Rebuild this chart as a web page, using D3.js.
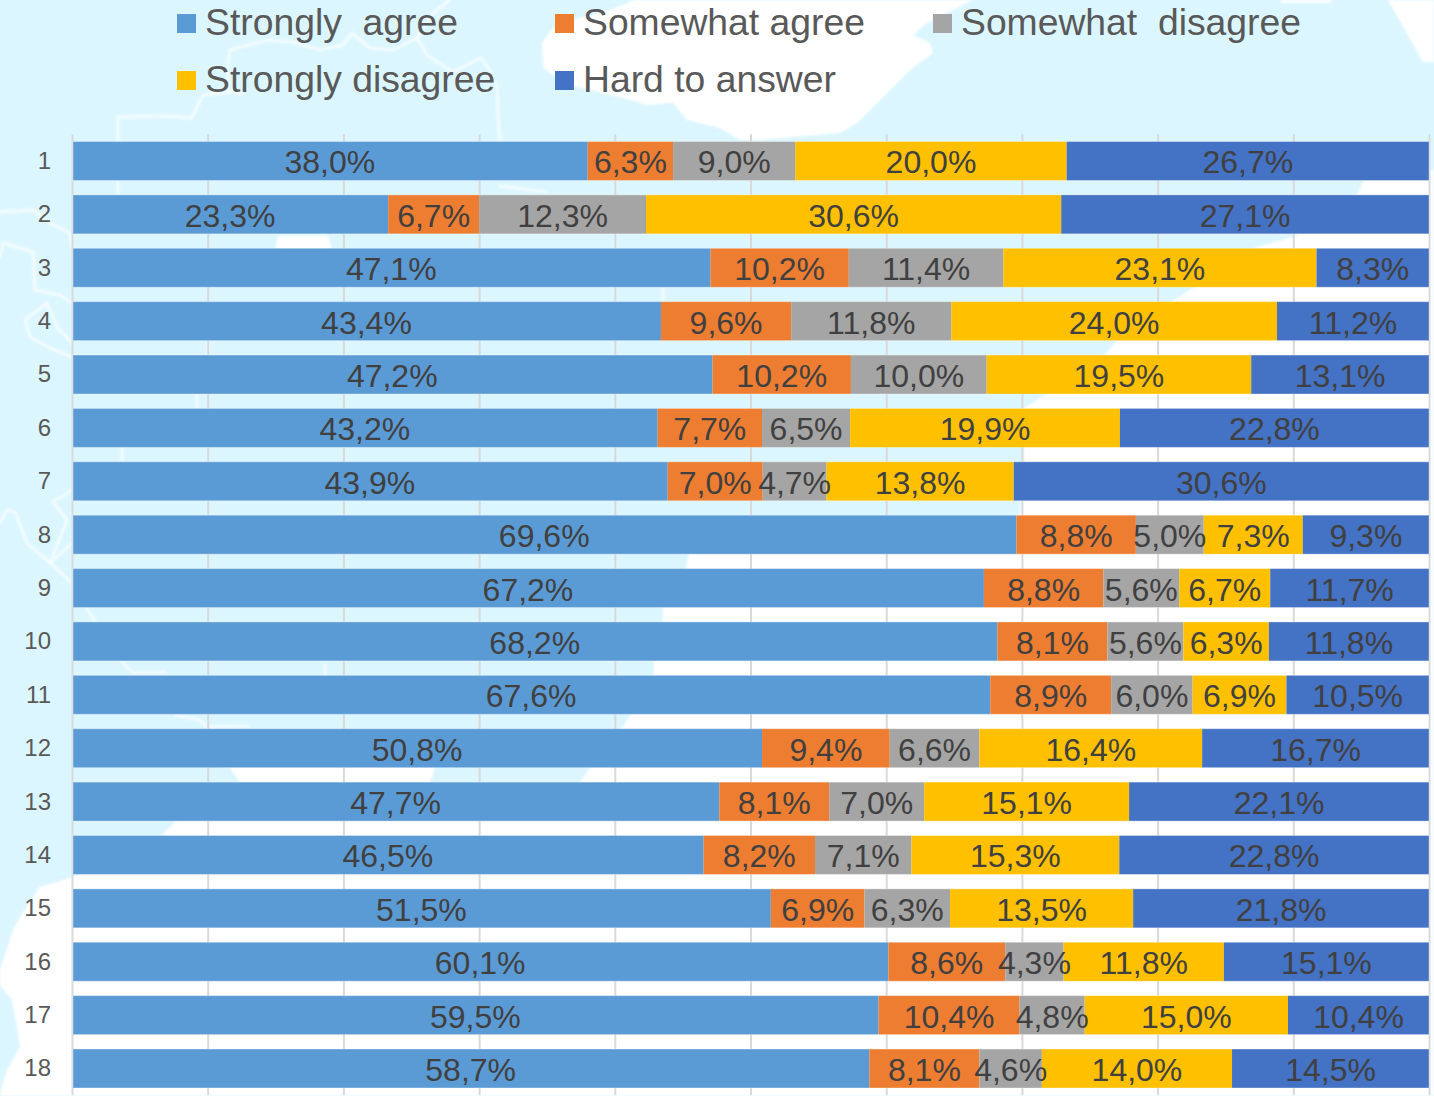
<!DOCTYPE html>
<html>
<head>
<meta charset="utf-8">
<title>Survey answers</title>
<script src="https://cdn.jsdelivr.net/npm/d3@7"></script>
<style>
	html, body { margin: 0; padding: 0; background: #fff; }
	svg { display: block; font-family: "Liberation Sans", Arial, sans-serif; }
	.axis text { fill: #595959; font-size: 24px; }
	.grid line { stroke: #d9d9d9; stroke-width: 2; }
	.legend text { fill: #595959; font-size: 37.3px; white-space: pre; }
	.label { fill: #404040; font-size: 32px; text-anchor: middle; }
	.coast { fill: none; stroke: #fff; stroke-width: 3; stroke-opacity: 0.65; stroke-linejoin: round; stroke-linecap: round; }
</style>
</head>
<body>
<script>
const ROWS = d3.range(1, 19);
const SERIES = ["Strongly  agree", "Somewhat agree", "Somewhat  disagree", "Strongly disagree", "Hard to answer"];
const COLORS = ["#5b9bd5", "#ed7d31", "#a5a5a5", "#ffc000", "#4472c4"];

const stronglyAgree = [38.0, 23.3, 47.1, 43.4, 47.2, 43.2, 43.9, 69.6, 67.2, 68.2, 67.6, 50.8, 47.7, 46.5, 51.5, 60.1, 59.5, 58.7];
const somewhatAgree = [6.3, 6.7, 10.2, 9.6, 10.2, 7.7, 7.0, 8.8, 8.8, 8.1, 8.9, 9.4, 8.1, 8.2, 6.9, 8.6, 10.4, 8.1];
const somewhatDisagree = [9.0, 12.3, 11.4, 11.8, 10.0, 6.5, 4.7, 5.0, 5.6, 5.6, 6.0, 6.6, 7.0, 7.1, 6.3, 4.3, 4.8, 4.6];
const stronglyDisagree = [20.0, 30.6, 23.1, 24.0, 19.5, 19.9, 13.8, 7.3, 6.7, 6.3, 6.9, 16.4, 15.1, 15.3, 13.5, 11.8, 15.0, 14.0];
const hardToAnswer = [26.7, 27.1, 8.3, 11.2, 13.1, 22.8, 30.6, 9.3, 11.7, 11.8, 10.5, 16.7, 22.1, 22.8, 21.8, 15.1, 10.4, 14.5];
const VALUES = [stronglyAgree, somewhatAgree, somewhatDisagree, stronglyDisagree, hardToAnswer];

// the faded map behind the chart, traced by eye
const LAND = [
	[[635, 0], [610, 10], [573, 20], [553, 28], [542, 43], [543, 67], [563, 83], [620, 97], [647, 105], [673, 103], [687, 120], [720, 128], [740, 140], [760, 140], [840, 133], [857, 123], [887, 93], [910, 70], [933, 53], [930, 43], [913, 35], [927, 23], [953, 10], [973, 0]],
	[[1388, 0], [1423, 62], [1434, 62], [1434, 0]],
	[[1280, 0], [1282, 3], [1330, 3], [1332, 0]],
	[[275, 250], [278, 236], [328, 236], [332, 250]],
	[[1434, 170], [1365, 178], [1358, 193], [1293, 237], [1257, 247], [1193, 288], [1173, 301], [1115, 342], [1107, 353], [1047, 394], [1024, 408], [1024, 461], [1020, 515], [690, 545], [686, 568], [663, 608], [663, 621], [654, 661], [654, 675], [631, 714], [622, 728], [600, 760], [590, 768], [580, 782], [560, 800], [440, 800], [430, 782], [435, 768], [420, 760], [240, 760], [230, 768], [240, 782], [190, 810], [175, 822], [162, 835], [70, 878], [40, 887], [20, 917], [13, 930], [0, 970], [0, 985], [12, 1000], [17, 1027], [20, 1047], [7, 1070], [0, 1093], [0, 1096], [1434, 1096]],
];
const COAST = [
	[[118, 200], [118, 117], [170, 116], [192, 118], [203, 95], [228, 92], [243, 93]],
	[[228, 92], [228, 63], [230, 50], [267, 40], [293, 42], [320, 50], [343, 45], [352, 33], [370, 48], [393, 50], [417, 38], [427, 55], [453, 72], [480, 58], [488, 67], [497, 87], [498, 117], [500, 140]],
	[[417, 38], [433, 13], [450, 0]],
	[[0, 212], [33, 210], [50, 223], [70, 233], [72, 247]],
	[[0, 257], [3, 243], [33, 252], [35, 290], [60, 295], [72, 303]],
	[[47, 303], [25, 320], [30, 337], [50, 348], [72, 357]],
	[[47, 303], [57, 327], [72, 343]],
	[[72, 490], [53, 502], [67, 520], [50, 563], [72, 543]],
	[[0, 523], [7, 510], [15, 512], [27, 543], [50, 563], [72, 583]],
	[[87, 608], [95, 622]],
	[[122, 662], [133, 673], [165, 672]],
	[[175, 715], [200, 720], [207, 727], [248, 726]],
	[[197, 394], [197, 408]],
	[[122, 447], [122, 461]],
	[[208, 343], [208, 355]],
	[[663, 288], [663, 301]],
	[[325, 665], [325, 675]],
	[[500, 186], [546, 192]],
];

const width = 1434, height = 1096;
const margin = { top: 134.3, right: 5, bottom: 0.8, left: 72 };

let svg = d3.select("body")
	.append("svg")
		.attr("width", width)
		.attr("height", height)
		.attr("viewBox", `0 0 ${width} ${height}`);

svg.append("defs")
	.append("filter")
		.attr("id", "soft")
	.append("feGaussianBlur")
		.attr("stdDeviation", 1);

// background
svg.append("rect")
	.attr("width", width)
	.attr("height", height)
	.attr("fill", "#dcf6ff");

let map = svg.append("g")
	.attr("class", "map")
	.attr("filter", "url(#soft)");
let line = d3.line();
map.selectAll("path.land")
	.data(LAND)
	.enter()
	.append("path")
		.attr("class", "land")
		.attr("fill", "#fff")
		.attr("d", d => line(d) + "Z");
map.selectAll("path.coast")
	.data(COAST)
	.enter()
	.append("path")
		.attr("class", "coast")
		.attr("d", line);

let scale = {
	x: d3.scaleLinear().domain([0, 1]).range([margin.left, width - margin.right]),
	y: d3.scaleBand().domain(ROWS).range([margin.top, height - margin.bottom]).paddingInner(0.27).paddingOuter(0.135),
};

// gridlines, one every 10%
let grid = svg.append("g")
	.attr("class", "grid")
	.attr("transform", `translate(0, ${margin.top})`)
	.call(d3.axisBottom(scale.x)
		.tickValues(d3.range(0, 11).map(d => d / 10))
		.tickSize(height - margin.top - margin.bottom)
		.tickFormat(""));
grid.select(".domain").remove();

let axisY = svg.append("g")
	.attr("class", "axis y")
	.attr("transform", `translate(${margin.left}, 0)`)
	.call(d3.axisLeft(scale.y).tickSize(0).tickPadding(21));
axisY.select(".domain").remove();
axisY.selectAll("text")
	.attr("dy", "0.33em");

// 100% stacked, the printed shares do not always add up to exactly 100
let table = ROWS.map((row, i) => {
	let entry = { row };
	SERIES.forEach((name, j) => entry[name] = VALUES[j][i]);
	return entry;
});
let stacked = d3.stack()
	.keys(SERIES)
	.offset(d3.stackOffsetExpand)(table);

let groups = svg.append("g")
	.attr("class", "chart")
	.selectAll("g")
		.data(stacked)
		.enter()
		.append("g")
			.attr("fill", (d, i) => COLORS[i]);

groups.selectAll("rect")
	.data(d => d)
	.enter()
	.append("rect")
		.attr("x", d => scale.x(d[0]) + (d[0] === 0 ? 1 : 0))
		.attr("y", d => scale.y(d.data.row))
		.attr("width", d => scale.x(d[1]) - scale.x(d[0]) - (d[0] === 0 ? 1 : 0))
		.attr("height", scale.y.bandwidth());

// pale edge round the bars
svg.append("g")
	.attr("class", "edges")
	.selectAll("rect")
		.data(ROWS)
		.enter()
		.append("rect")
			.attr("x", scale.x(0) + 1)
			.attr("y", d => scale.y(d))
			.attr("width", scale.x(1) - scale.x(0) - 1)
			.attr("height", scale.y.bandwidth())
			.attr("fill", "none")
			.attr("stroke", "#fff")
			.attr("stroke-opacity", 0.35);

let labels = svg.append("g")
	.attr("class", "labels")
	.selectAll("g")
		.data(stacked)
		.enter()
		.append("g");

labels.selectAll("text")
	.data((d, i) => d.map((item, j) => ({ item, value: VALUES[i][j] })))
	.enter()
	.append("text")
		.attr("class", "label")
		.attr("x", d => (scale.x(d.item[0]) + scale.x(d.item[1])) / 2)
		.attr("y", d => scale.y(d.item.data.row) + scale.y.bandwidth() / 2 + 12.5)
		.text(d => d.value.toFixed(1).replace(".", ",") + "%");

// legend, three entries on the first line and two on the second
const legendColumn = d3.scalePoint().domain([0, 1, 2]).range([177, 933]);
const legendLine = d3.scalePoint().domain([0, 1]).range([14, 71]);

let legend = svg.append("g")
	.attr("class", "legend")
	.selectAll("g")
		.data(SERIES)
		.enter()
		.append("g")
			.attr("transform", (d, i) => `translate(${legendColumn(i % 3)}, ${legendLine(Math.floor(i / 3))})`);
legend.append("rect")
	.attr("width", 19)
	.attr("height", 19)
	.attr("fill", (d, i) => COLORS[i]);
legend.append("text")
	.attr("x", 28)
	.attr("y", 21)
	.text(d => d);
</script>
</body>
</html>
